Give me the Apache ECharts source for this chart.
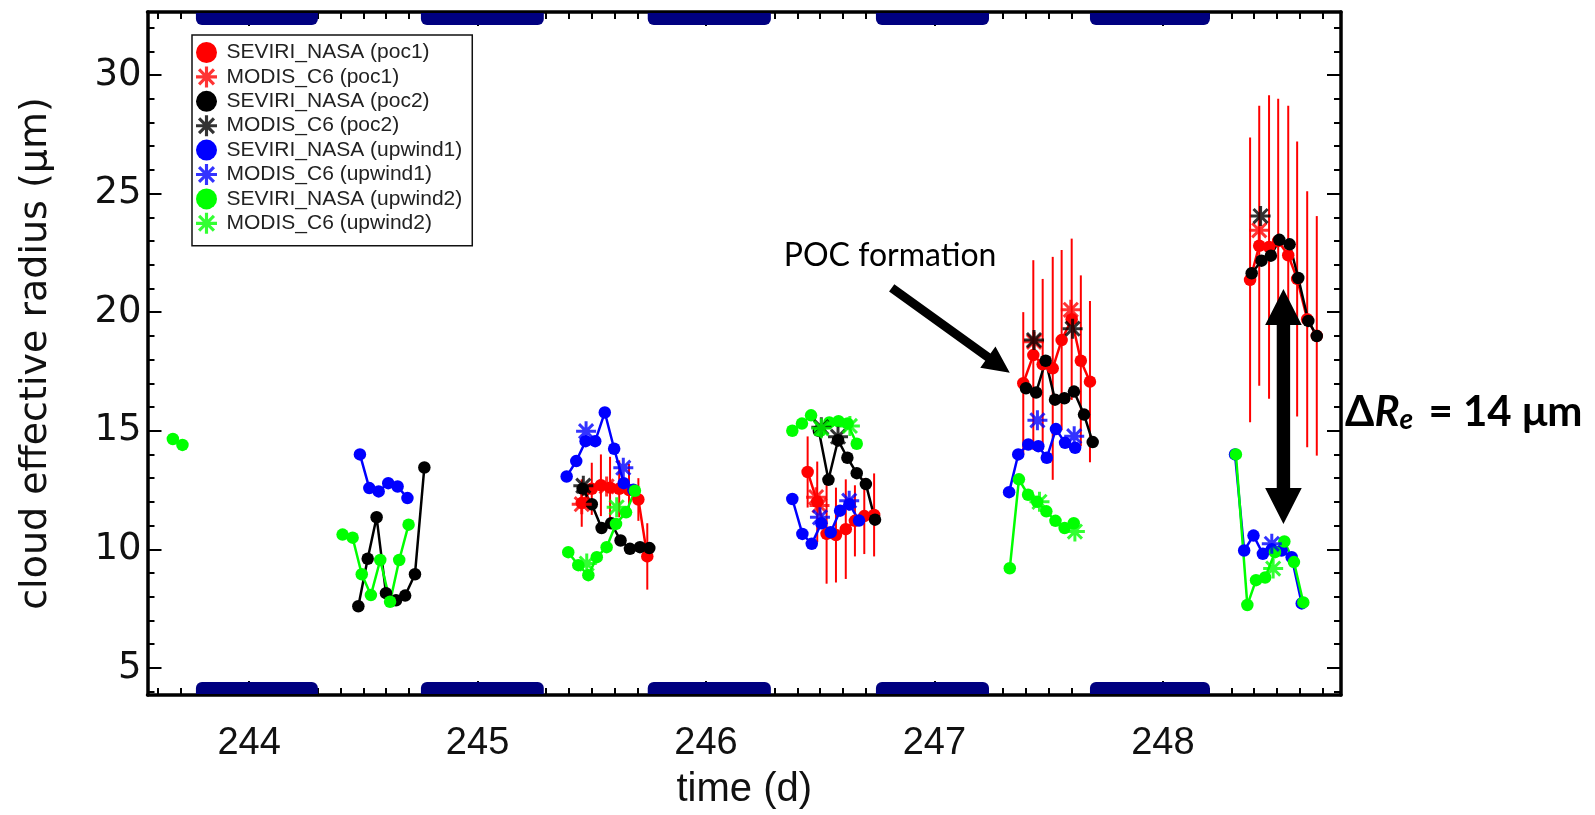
<!DOCTYPE html>
<html><head><meta charset="utf-8">
<script src="https://cdn.jsdelivr.net/npm/echarts@6/dist/echarts.min.js"></script>
<style>html,body{margin:0;padding:0;background:#fff}#c{width:1595px;height:815px}</style>
</head><body><div id="c"></div>
<script>
// ---------------- data ----------------
const xMajorTicks = [244, 245, 246, 247, 248];
const yMajorTicks = [5, 10, 15, 20, 25, 30];

// SEVIRI_NASA (poc1) - red dots, one segment per day
const sevPoc1 = [
  [[245.456,11.95],[245.500,12.55],[245.540,12.7],[245.580,12.6],[245.620,12.55],[245.663,12.5],[245.704,12.1],[245.743,9.7]],
  [[246.445,13.26],[246.487,12.0],[246.528,10.65],[246.569,10.6],[246.612,10.85],[246.652,11.2],[246.693,11.4],[246.736,11.45]],
  [[247.389,17.0],[247.433,18.19],[247.474,17.8],[247.518,17.63],[247.557,18.82],[247.601,19.7],[247.641,17.95],[247.681,17.07]],
  [[248.382,21.36],[248.422,22.8],[248.465,22.75],[248.505,23.0],[248.549,22.4],[248.588,21.4],[248.632,19.7],[248.674,19.0]]
];
// error half-lengths for SEVIRI_NASA (poc1)
const sevPoc1Err = [
  [1.0,1.1,1.3,1.3,1.2,1.1,0.9,1.4],
  [1.5,1.7,2.1,2.0,2.1,1.5,1.6,1.75],
  [3.0,4.0,3.6,4.7,3.8,3.4,3.6,3.4],
  [6.0,5.9,6.4,6.0,6.3,5.8,5.4,5.05]
];
const modPoc1 = [[245.456,11.9],[245.565,12.65],[246.482,12.2],[246.497,11.85],[247.436,18.75],[247.597,20.1],[248.422,23.45]];

// SEVIRI_NASA (poc2) - black
const sevPoc2 = [
  [[244.478,7.6],[244.519,9.6],[244.558,11.35],[244.599,8.15],[244.643,7.85],[244.683,8.05],[244.726,8.95],[244.767,13.45]],
  [[245.460,12.55],[245.500,11.9],[245.543,10.9],[245.585,11.1],[245.626,10.37],[245.667,10.02],[245.711,10.09],[245.752,10.05]],
  [[246.494,15.0],[246.536,12.93],[246.578,14.6],[246.619,13.86],[246.660,13.21],[246.700,12.75],[246.740,11.25]],
  [[247.401,16.79],[247.445,16.61],[247.487,17.95],[247.528,16.31],[247.569,16.37],[247.611,16.65],[247.655,15.68],[247.693,14.52]],
  [[248.389,21.64],[248.432,22.17],[248.473,22.38],[248.510,23.05],[248.555,22.86],[248.593,21.44],[248.637,19.63],[248.674,18.99]]
];
const modPoc2 = [[245.463,12.68],[246.505,15.15],[246.578,14.75],[247.436,18.82],[247.605,19.3],[248.428,24.05]];

// SEVIRI_NASA (upwind1) - blue
const sevUp1 = [
  [[244.485,14.0],[244.526,12.58],[244.567,12.44],[244.609,12.79],[244.650,12.65],[244.693,12.16]],
  [[245.390,13.07],[245.432,13.72],[245.473,14.56],[245.515,14.56],[245.557,15.77],[245.598,14.24],[245.640,12.79],[245.682,12.51]],
  [[246.378,12.12],[246.422,10.65],[246.463,10.23],[246.505,11.1],[246.546,10.72],[246.587,11.63],[246.628,11.9],[246.670,11.21]],
  [[247.327,12.41],[247.367,14.0],[247.411,14.42],[247.455,14.35],[247.492,13.86],[247.532,15.07],[247.572,14.49],[247.616,14.28]],
  [[248.316,14.0],[248.356,9.95],[248.397,10.58],[248.438,9.81],[248.477,10.0],[248.520,9.95],[248.564,9.67],[248.608,7.72]]
];
const modUp1 = [[245.475,14.98],[245.638,13.44],[246.499,11.35],[246.627,12.05],[247.451,15.44],[247.612,14.77],[248.477,10.23]];

// SEVIRI_NASA (upwind2) - green
const sevUp2 = [
  [[243.666,14.65],[243.708,14.4]],
  [[244.409,10.62],[244.453,10.49],[244.493,8.95],[244.533,8.07],[244.574,9.55],[244.617,7.79],[244.657,9.55],[244.698,11.04]],
  [[245.397,9.88],[245.441,9.33],[245.485,8.91],[245.522,9.67],[245.565,10.09],[245.606,11.07],[245.650,11.56],[245.689,12.47]],
  [[246.378,15.0],[246.420,15.3],[246.460,15.65],[246.500,15.0],[246.540,15.35],[246.580,15.4],[246.620,15.3],[246.660,14.45]],
  [[247.330,9.2],[247.370,12.95],[247.410,12.3],[247.450,12.0],[247.490,11.6],[247.530,11.2],[247.570,10.9],[247.610,11.1]],
  [[248.320,14.0],[248.370,7.65],[248.408,8.70],[248.448,8.81],[248.491,9.88],[248.532,10.33],[248.574,9.46],[248.615,7.76]]
];
const modUp2 = [[245.478,9.40],[245.609,11.77],[246.505,15.1],[246.630,15.2],[247.460,12.0],[247.615,10.75],[248.483,9.19]];

// night periods (start, end) in days
const nightBands = [[243.767,244.301],[244.752,245.290],[245.745,246.284],[246.744,247.239],[247.681,248.206]];

// annotation anchors (data coords)
const pocArrow = {from:[246.813,21.02], to:[247.33,17.44]};
const deltaArrow = {x:248.528, top:20.98, bottom:11.07};
const pocLabel = {x:246.806, y:22.39, text:'POC formation'};
const deltaLabel = {x:248.798, y:15.93};

// ---------------- chart ----------------
const xMin = 243.555, xMax = 248.78, yMin = 3.857, yMax = 32.655;
const xMinorTicks = []; for (let i = 2436; i <= 2487; i++) xMinorTicks.push(i / 10);
const yMinorTicks = []; for (let i = 4; i <= 32; i++) yMinorTicks.push(i);

const STAR = 'path://M-1.5,-10L1.5,-10L1.5,10L-1.5,10Z M-10,-1.5L10,-1.5L10,1.5L-10,1.5Z M-8.13,-6.01L-6.01,-8.13L8.13,6.01L6.01,8.13Z M6.01,-8.13L8.13,-6.01L-6.01,8.13L-8.13,6.01Z';

function flat(segs) {
  const out = [];
  segs.forEach((s, i) => { if (i) out.push([s[0][0] - 0.01, null]); s.forEach(p => out.push(p)); });
  return out;
}
const errData = [];
sevPoc1.forEach((s, i) => s.forEach((p, j) => errData.push([p[0], p[1], sevPoc1Err[i][j]])));

const chart = echarts.init(document.getElementById('c'));
const axisCol = '#000';
function xAx(pos, major) {
  return {
    type: 'value', position: pos, min: xMin, max: xMax, scale: true,
    axisLine: {show: major, onZero: false, lineStyle: {color: axisCol, width: 3.5}},
    axisTick: {show: true, inside: true, length: major ? 14 : 7, lineStyle: {color: axisCol, width: 2}, customValues: major ? xMajorTicks : xMinorTicks},
    axisLabel: (major && pos === 'bottom') ? {show: true, customValues: xMajorTicks, margin: 30, color: '#111', fontSize: 38, fontFamily: "'Liberation Sans',Arial,sans-serif"} : {show: false},
    splitLine: {show: false}
  };
}
function yAx(pos, major) {
  return {
    type: 'value', position: pos, min: yMin, max: yMax, scale: true,
    axisLine: {show: major, onZero: false, lineStyle: {color: axisCol, width: 3.5}},
    axisTick: {show: true, inside: true, length: major ? 14 : 7, lineStyle: {color: axisCol, width: 2}, customValues: major ? yMajorTicks : yMinorTicks},
    axisLabel: (major && pos === 'left') ? {show: true, customValues: yMajorTicks, margin: 6, color: '#111', fontSize: 37, fontFamily: "'DejaVu Sans',sans-serif"} : {show: false},
    splitLine: {show: false}
  };
}
const xAxes = [xAx('bottom', true), xAx('bottom', false), xAx('top', true), xAx('top', false)];
xAxes[0].name = 'time (d)'; xAxes[0].nameLocation = 'middle'; xAxes[0].nameGap = 75;
xAxes[0].nameTextStyle = {fontSize: 40, color: '#111', fontFamily: "'Liberation Sans',Arial,sans-serif"};
const yAxes = [yAx('left', true), yAx('left', false), yAx('right', true), yAx('right', false)];
yAxes[0].name = 'cloud effective radius (\u03bcm)'; yAxes[0].nameLocation = 'middle'; yAxes[0].nameGap = 92; yAxes[0].nameRotate = 90;
yAxes[0].nameTextStyle = {fontSize: 38, color: '#111', fontFamily: "'DejaVu Sans',sans-serif"};

function lineSeries(name, segs, color) {
  return {name, type: 'line', data: flat(segs), connectNulls: false, symbol: 'circle', symbolSize: 12.5,
    itemStyle: {color}, lineStyle: {color, width: 2.5}, showSymbol: true, animation: false, z: 3};
}
function starSeries(name, pts, color) {
  return {name, type: 'scatter', data: pts, symbol: STAR, symbolSize: 20, itemStyle: {color}, animation: false, z: 4};
}

const series = [
  {type: 'custom', name: 'err', data: errData, z: 2, silent: true, animation: false,
    renderItem: (params, api) => {
      const x = api.value(0), y = api.value(1), e = api.value(2);
      const a = api.coord([x, y - e]), b = api.coord([x, y + e]);
      return {type: 'line', shape: {x1: a[0], y1: a[1], x2: b[0], y2: b[1]}, style: {stroke: '#ff0000', lineWidth: 2}};
    }},
  lineSeries('SEVIRI_NASA (poc1)', sevPoc1, '#ff0000'),
  starSeries('MODIS_C6 (poc1)', modPoc1, '#ff0000'),
  lineSeries('SEVIRI_NASA (poc2)', sevPoc2, '#000000'),
  starSeries('MODIS_C6 (poc2)', modPoc2, '#000000'),
  lineSeries('SEVIRI_NASA (upwind1)', sevUp1, '#0000ff'),
  starSeries('MODIS_C6 (upwind1)', modUp1, '#0000ff'),
  lineSeries('SEVIRI_NASA (upwind2)', sevUp2, '#00ff00'),
  starSeries('MODIS_C6 (upwind2)', modUp2, '#00ff00'),
  {type: 'custom', name: 'night', data: nightBands, z: 5, silent: true, animation: false, clip: false,
    renderItem: (params, api) => {
      const x0 = api.value(0), x1 = api.value(1), h = 12;
      const t0 = api.coord([x0, yMax]), t1 = api.coord([x1, yMax]);
      const b0 = api.coord([x0, yMin]);
      return {type: 'group', children: [
        {type: 'rect', shape: {x: t0[0], y: t0[1] + 1, width: t1[0] - t0[0], height: h, r: [0, 0, 6, 6]}, style: {fill: '#000080'}},
        {type: 'rect', shape: {x: b0[0], y: b0[1] - 1 - h, width: t1[0] - t0[0], height: h, r: [6, 6, 0, 0]}, style: {fill: '#000080'}}
      ]};
    }}
];

const legendNames = ['SEVIRI_NASA (poc1)','MODIS_C6 (poc1)','SEVIRI_NASA (poc2)','MODIS_C6 (poc2)','SEVIRI_NASA (upwind1)','MODIS_C6 (upwind1)','SEVIRI_NASA (upwind2)','MODIS_C6 (upwind2)'];

chart.setOption({
  animation: false,
  grid: {left: 147.5, right: 254, top: 12, bottom: 105.5, containLabel: false},
  xAxis: xAxes, yAxis: yAxes,
  legend: {
    orient: 'vertical', left: 192, top: 35, padding: [7, 10, 12, 4],
    itemWidth: 30, itemHeight: 21, itemGap: 3.4,
    backgroundColor: '#fff', borderColor: '#111', borderWidth: 1.5, borderRadius: 0,
    textStyle: {fontSize: 21, color: '#222', fontFamily: "'Liberation Sans',Arial,sans-serif"},
    data: legendNames.map(n => ({name: n, icon: n.startsWith('SEVIRI') ? 'circle' : STAR})),
    selectedMode: false
  },
  series
});

function annotate() {
  const p = (x, y) => chart.convertToPixel({xAxisIndex: 0, yAxisIndex: 0}, [x, y]);
  const s = p(pocArrow.from[0], pocArrow.from[1]);
  const t = p(pocArrow.to[0], pocArrow.to[1]);
  const dx = t[0] - s[0], dy = t[1] - s[1], L = Math.hypot(dx, dy);
  const ux = dx / L, uy = dy / L, nx = -uy, ny = ux;
  const hl = 27, hw = 13, sw = 4.5;
  const bx = t[0] - ux * hl, by = t[1] - uy * hl;
  const arrowPts = [
    [s[0] + nx * sw, s[1] + ny * sw], [bx + nx * sw, by + ny * sw], [bx + nx * hw, by + ny * hw], [t[0], t[1]],
    [bx - nx * hw, by - ny * hw], [bx - nx * sw, by - ny * sw], [s[0] - nx * sw, s[1] - ny * sw]
  ];
  const top = p(deltaArrow.x, deltaArrow.top), bot = p(deltaArrow.x, deltaArrow.bottom);
  const cx = top[0], yt = top[1], yb = bot[1], H = 18.3, W = 6.7, HL = 36;
  const dPts = [[cx, yt], [cx + H, yt + HL], [cx + W, yt + HL], [cx + W, yb - HL], [cx + H, yb - HL], [cx, yb],
    [cx - H, yb - HL], [cx - W, yb - HL], [cx - W, yt + HL], [cx - H, yt + HL]];
  const lp = p(pocLabel.x, pocLabel.y);
  const dp = p(deltaLabel.x, deltaLabel.y);
  chart.setOption({graphic: [
    {type: 'polygon', shape: {points: arrowPts}, style: {fill: '#000'}, z: 10},
    {type: 'polygon', shape: {points: dPts}, style: {fill: '#000'}, z: 10},
    {type: 'text', x: lp[0], y: lp[1], z: 10, style: {text: pocLabel.text, fill: '#000', font: "32px Lato, 'Open Sans', sans-serif", align: 'center', verticalAlign: 'middle'}},
    {type: 'text', x: dp[0], y: dp[1], z: 10, style: {
      text: '{b|\u0394}{i|R}{s|e}{b| = 14 \u03bcm}', align: 'left', verticalAlign: 'middle', fill: '#000',
      rich: {
        b: {fontSize: 42, fontWeight: 'bold', fontFamily: 'Lato', fill: '#000', lineHeight: 50, verticalAlign: 'bottom'},
        i: {fontSize: 42, fontWeight: 'bold', fontStyle: 'italic', fontFamily: 'Lato', fill: '#000', lineHeight: 50, verticalAlign: 'bottom'},
        s: {fontSize: 28, fontWeight: 'bold', fontStyle: 'italic', fontFamily: 'Lato', fill: '#000', lineHeight: 22, verticalAlign: 'bottom', padding: [0, 5, 0, 0]}
      }}}
  ]});
}
annotate();
</script></body></html>
